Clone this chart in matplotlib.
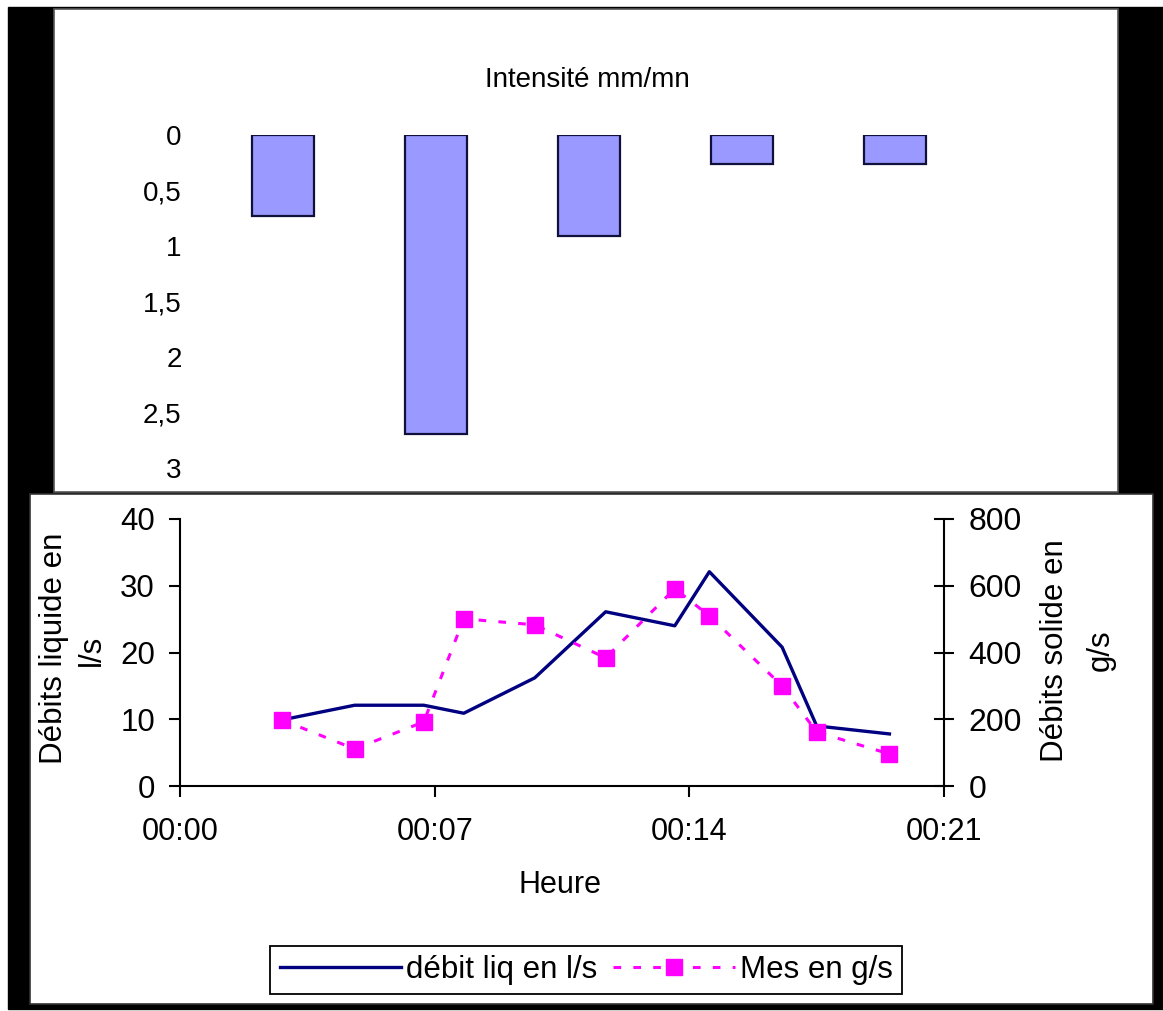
import matplotlib
matplotlib.use("Agg")
import matplotlib.pyplot as plt
from matplotlib.patches import Rectangle

plt.rcParams['font.family'] = ['Liberation Sans', 'DejaVu Sans']

# --- data ---
intensite = [0.73, 2.69, 0.91, 0.26, 0.26]          # mm/mn
intensite_ticks = [0, 0.5, 1, 1.5, 2, 2.5, 3]

temps_min = [2.8, 4.8, 6.7, 7.8, 9.75, 11.7, 13.6, 14.55, 16.55, 17.5, 19.5]
debit_liq = [9.9, 12.1, 12.1, 10.9, 16.2, 26.1, 24.0, 32.1, 20.8, 9.0, 7.8]
mes = [198, 111, 192, 501, 483, 384, 591, 510, 300, 162, 96]
heure_ticks = [0, 7, 14, 21]
heure_labels = ["00:00", "00:07", "00:14", "00:21"]

W, H = 1163, 1011
fig = plt.figure(figsize=(W / 100, H / 100), dpi=100)

def fx(px):
    return px / W

def fy(py):
    return 1 - py / H

# black background and the two white panels (behind the axes)
fig.patches.append(Rectangle((fx(8), fy(1009)), fx(1163 - 8), (1009 - 7) / H,
                             transform=fig.transFigure, color='black', zorder=-3))
fig.patches.append(Rectangle((fx(54), fy(492)), fx(1118 - 54), (492 - 9) / H,
                             transform=fig.transFigure, facecolor='white',
                             edgecolor='#555555', lw=1.2, zorder=-2))
fig.patches.append(Rectangle((fx(30), fy(1004)), fx(1153 - 30), (1004 - 494) / H,
                             transform=fig.transFigure, facecolor='white',
                             edgecolor='#333333', lw=1.2, zorder=-1))

# --- top: rain intensity ---
ax1 = fig.add_axes([fx(190), fy(468), fx(1100 - 190), (468 - 135) / H])
ax1.patch.set_alpha(0)
ax1.bar(range(len(intensite)), intensite, width=0.405, color='#9999ff',
        edgecolor='#10103a', linewidth=1.6)
ax1.set_ylim(3, 0)
ax1.set_xlim((190 - 283) / 153.0, (1100 - 283) / 153.0)
ax1.set_yticks(intensite_ticks)
ax1.set_yticklabels([("%g" % v).replace('.', ',') for v in intensite_ticks], fontsize=20)
ax1.tick_params(axis='y', length=0, pad=6)
ax1.set_xticks([])
for s in ax1.spines.values():
    s.set_visible(False)
fig.text(fx(587), fy(80), "Intensité mm/mn", fontsize=20, ha='center', va='center')

# --- bottom: discharge ---
ax2 = fig.add_axes([fx(180), fy(786), fx(944 - 180), (786 - 519) / H])
ax2.patch.set_alpha(0)
l1, = ax2.plot(temps_min, debit_liq, color='#000080', lw=2.4, zorder=3)
ax2.set_xlim(0, 21)
ax2.set_ylim(0, 40)
ax2.set_yticks([0, 10, 20, 30, 40])
ax2.set_xticks(heure_ticks)
ax2.set_xticklabels(heure_labels)
ax2.tick_params(axis='y', direction='out', length=8, width=1.5, pad=10, labelsize=22.5)
ax2.tick_params(axis='x', direction='out', length=8, width=1.5, pad=14, labelsize=22)
ax2.spines['top'].set_visible(False)
ax2.spines['right'].set_visible(False)
ax2.spines['left'].set_linewidth(1.5)
ax2.spines['bottom'].set_linewidth(1.5)

ax3 = ax2.twinx()
l2, = ax3.plot(temps_min, mes, color='#ff00ff', lw=2.2, ls=(0, (2.5, 4)),
               marker='s', markersize=11, markeredgecolor='#ff00ff', zorder=4)
ax3.set_ylim(0, 800)
ax3.set_yticks([0, 200, 400, 600, 800])
ax3.tick_params(axis='y', direction='inout', length=15, width=1.5, pad=10, labelsize=23)
ax3.spines['top'].set_visible(False)
ax3.spines['left'].set_visible(False)
ax3.spines['bottom'].set_visible(False)
ax3.spines['right'].set_linewidth(1.5)

# axis titles, one text per line
fig.text(fx(54), fy(648), "Débits liquide en", fontsize=22.5, rotation=90,
         ha='center', va='center')
fig.text(fx(92), fy(650), "l/s", fontsize=22.5, rotation=90,
         ha='center', va='center')
fig.text(fx(1055), fy(651), "Débits solide en", fontsize=22.5, rotation=90,
         ha='center', va='center')
fig.text(fx(1101), fy(650), "g/s", fontsize=22.5, rotation=90,
         ha='center', va='center')
fig.text(fx(560), fy(885), "Heure", fontsize=22, ha='center', va='center')

leg = fig.legend([l1, l2], ["débit liq en l/s", "Mes en g/s"], ncol=2,
                 loc='center', bbox_to_anchor=(fx(586), fy(970)),
                 fontsize=22.5, handlelength=3.9, handletextpad=0.15,
                 columnspacing=0.5, borderpad=0.3, borderaxespad=0,
                 fancybox=False, edgecolor='black', framealpha=1)
leg.get_frame().set_linewidth(1.3)

fig.savefig("out.png", dpi=100)
